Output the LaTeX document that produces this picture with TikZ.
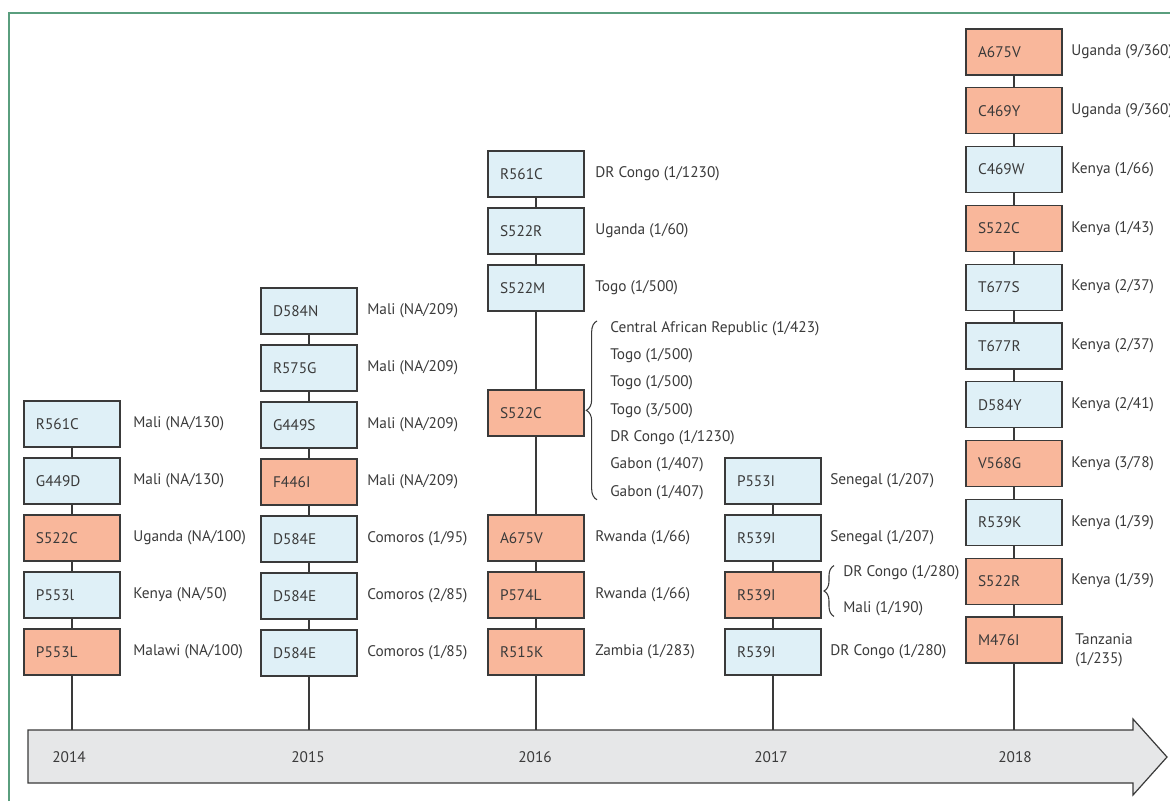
\documentclass[tikz,border=0pt]{standalone}
\usepackage{fontspec}
\setmainfont{PT Sans}
\usetikzlibrary{positioning,calc,decorations.pathreplacing}
\definecolor{boxblue}{HTML}{DFF0F7}
\definecolor{boxorange}{HTML}{F9B79B}
\definecolor{bargrey}{HTML}{E6E7E8}
\definecolor{framegreen}{HTML}{5A9E7E}
\definecolor{ink}{HTML}{3A3A3A}

\begin{document}
\begin{tikzpicture}[x=0.75pt, y=-0.75pt, font=\fontsize{11.5}{13.8}\selectfont, text=ink,
    node distance=8.25pt,
    mut/.style={draw=ink, line width=0.9pt, fill=boxblue, minimum width=72pt, minimum height=34.5pt, text width=54pt, inner xsep=9pt, inner ysep=0pt, outer sep=0pt, align=left},
    res/.style={mut, fill=boxorange},
    lbl/.style={inner sep=0pt, align=left},
    link/.style={draw=ink, line width=0.9pt},
    brc/.style={draw=ink, line width=0.8pt, decorate, decoration={brace, amplitude=8pt}}]
    \useasboundingbox (0,0) rectangle (1170,801);
    \draw [framegreen, line width=1.3pt] (9,801) -- (9,13) -- (1170,13);

    % time bar
    \draw [fill=bargrey, draw=ink, line width=0.9pt] (28,730) -- (1133,730) -- (1133,719) -- (1167,757) -- (1133,795) -- (1133,783) -- (28,783) -- cycle;
    \coordinate (bartop) at (0,730);
    \node (y14) at (69,757) {2014};
    \node (y15) at (308,757) {2015};
    \node (y16) at (535,757) {2016};
    \node (y17) at (771,757) {2017};
    \node (y18) at (1015,757) {2018};

    % 2014
    \node (m14a) [mut] at (72,424) {R561C};
    \node (m14b) [mut, below=of m14a] {G449D};
    \node (m14c) [res, below=of m14b] {S522C};
    \node (m14d) [mut, below=of m14c] {P553l};
    \node (m14e) [res, below=of m14d] {P553L};
    \node (n14a) [lbl, right=9.75pt of m14a] {Mali (NA/130)};
    \node (n14b) [lbl, right=9.75pt of m14b] {Mali (NA/130)};
    \node (n14c) [lbl, right=9.75pt of m14c] {Uganda (NA/100)};
    \node (n14d) [lbl, right=9.75pt of m14d] {Kenya (NA/50)};
    \node (n14e) [lbl, right=9.75pt of m14e] {Malawi (NA/100)};

    % 2015
    \node (m15a) [mut] at (309,311) {D584N};
    \node (m15b) [mut, below=of m15a] {R575G};
    \node (m15c) [mut, below=of m15b] {G449S};
    \node (m15d) [res, below=of m15c] {F446I};
    \node (m15e) [mut, below=of m15d] {D584E};
    \node (m15f) [mut, below=of m15e] {D584E};
    \node (m15g) [mut, below=of m15f] {D584E};
    \node (n15a) [lbl, right=7.5pt of m15a] {Mali (NA/209)};
    \node (n15b) [lbl, right=7.5pt of m15b] {Mali (NA/209)};
    \node (n15c) [lbl, right=7.5pt of m15c] {Mali (NA/209)};
    \node (n15d) [lbl, right=7.5pt of m15d] {Mali (NA/209)};
    \node (n15e) [lbl, right=7.5pt of m15e] {Comoros (1/95)};
    \node (n15f) [lbl, right=7.5pt of m15f] {Comoros (2/85)};
    \node (n15g) [lbl, right=7.5pt of m15g] {Comoros (1/85)};

    % 2016
    \node (m16a) [mut] at (536,174) {R561C};
    \node (m16b) [mut, below=of m16a] {S522R};
    \node (m16c) [mut, below=of m16b] {S522M};
    \node (m16d) [res] at (536,413) {S522C};
    \node (m16e) [res] at (536,538) {A675V};
    \node (m16f) [res, below=of m16e] {P574L};
    \node (m16g) [res, below=of m16f] {R515K};
    \node (n16a) [lbl, right=8.25pt of m16a] {DR Congo (1/1230)};
    \node (n16b) [lbl, right=8.25pt of m16b] {Uganda (1/60)};
    \node (n16c) [lbl, right=8.25pt of m16c] {Togo (1/500)};
    \node (n16d) [lbl, right=19.5pt of m16d, yshift=2pt, font=\fontsize{11.5}{20.5}\selectfont] {Central African Republic (1/423)\\Togo (1/500)\\Togo (1/500)\\Togo (3/500)\\DR Congo (1/1230)\\Gabon (1/407)\\Gabon (1/407)};
    \node (n16e) [lbl, right=8.25pt of m16e] {Rwanda (1/66)};
    \node (n16f) [lbl, right=8.25pt of m16f] {Rwanda (1/66)};
    \node (n16g) [lbl, right=8.25pt of m16g] {Zambia (1/283)};
    \draw [brc] ($(n16d.south west)+(-9.75pt,0)$) -- ($(n16d.north west)+(-9.75pt,0)$);

    % 2017
    \node (m17a) [mut] at (773,481) {P553I};
    \node (m17b) [mut, below=of m17a] {R539I};
    \node (m17c) [res, below=of m17b] {R539I};
    \node (m17d) [mut, below=of m17c] {R539I};
    \node (n17a) [lbl, right=6.75pt of m17a] {Senegal (1/207)};
    \node (n17b) [lbl, right=6.75pt of m17b] {Senegal (1/207)};
    \node (n17c) [lbl, right=16.5pt of m17c, yshift=3pt, font=\fontsize{11.5}{27}\selectfont] {DR Congo (1/280)\\Mali (1/190)};
    \node (n17d) [lbl, right=6.75pt of m17d] {DR Congo (1/280)};
    \draw [brc, decoration={amplitude=7.5pt}] ($(n17c.south west)+(-6.75pt,0)$) -- ($(n17c.north west)+(-6.75pt,0)$);

    % 2018
    \begin{scope}[node distance=9.6pt]
    \node (m18a) [res] at (1014,52) {A675V};
    \node (m18b) [res, below=of m18a] {C469Y};
    \node (m18c) [mut, below=of m18b] {C469W};
    \node (m18d) [res, below=of m18c] {S522C};
    \node (m18e) [mut, below=of m18d] {T677S};
    \node (m18f) [mut, below=of m18e] {T677R};
    \node (m18g) [mut, below=of m18f] {D584Y};
    \node (m18h) [res, below=of m18g] {V568G};
    \node (m18i) [mut, below=of m18h] {R539K};
    \node (m18j) [res, below=of m18i] {S522R};
    \node (m18k) [res, below=of m18j] {M476I};
    \end{scope}
    \node (n18a) [lbl, right=6.75pt of m18a] {Uganda (9/360)};
    \node (n18b) [lbl, right=6.75pt of m18b] {Uganda (9/360)};
    \node (n18c) [lbl, right=6.75pt of m18c] {Kenya (1/66)};
    \node (n18d) [lbl, right=6.75pt of m18d] {Kenya (1/43)};
    \node (n18e) [lbl, right=6.75pt of m18e] {Kenya (2/37)};
    \node (n18f) [lbl, right=6.75pt of m18f] {Kenya (2/37)};
    \node (n18g) [lbl, right=6.75pt of m18g] {Kenya (2/41)};
    \node (n18h) [lbl, right=6.75pt of m18h] {Kenya (3/78)};
    \node (n18i) [lbl, right=6.75pt of m18i] {Kenya (1/39)};
    \node (n18j) [lbl, right=6.75pt of m18j] {Kenya (1/39)};
    \node (n18k) [lbl, right=9.75pt of m18k, yshift=-7.5pt, font=\fontsize{11.5}{14.5}\selectfont] {Tanzania\\(1/235)};

    \foreach \a/\b in {m14a/m14b, m14b/m14c, m14c/m14d, m14d/m14e,
        m15a/m15b, m15b/m15c, m15c/m15d, m15d/m15e, m15e/m15f, m15f/m15g,
        m16a/m16b, m16b/m16c, m16c/m16d, m16d/m16e, m16e/m16f, m16f/m16g,
        m17a/m17b, m17b/m17c, m17c/m17d,
        m18a/m18b, m18b/m18c, m18c/m18d, m18d/m18e, m18e/m18f, m18f/m18g, m18g/m18h, m18h/m18i, m18i/m18j, m18j/m18k}
        \draw [link] (\a) -- (\b);
    \foreach \a in {m14e, m15g, m16g, m17d, m18k}
        \draw [link] (\a.south) -- (\a.south |- bartop);
\end{tikzpicture}
\end{document}
